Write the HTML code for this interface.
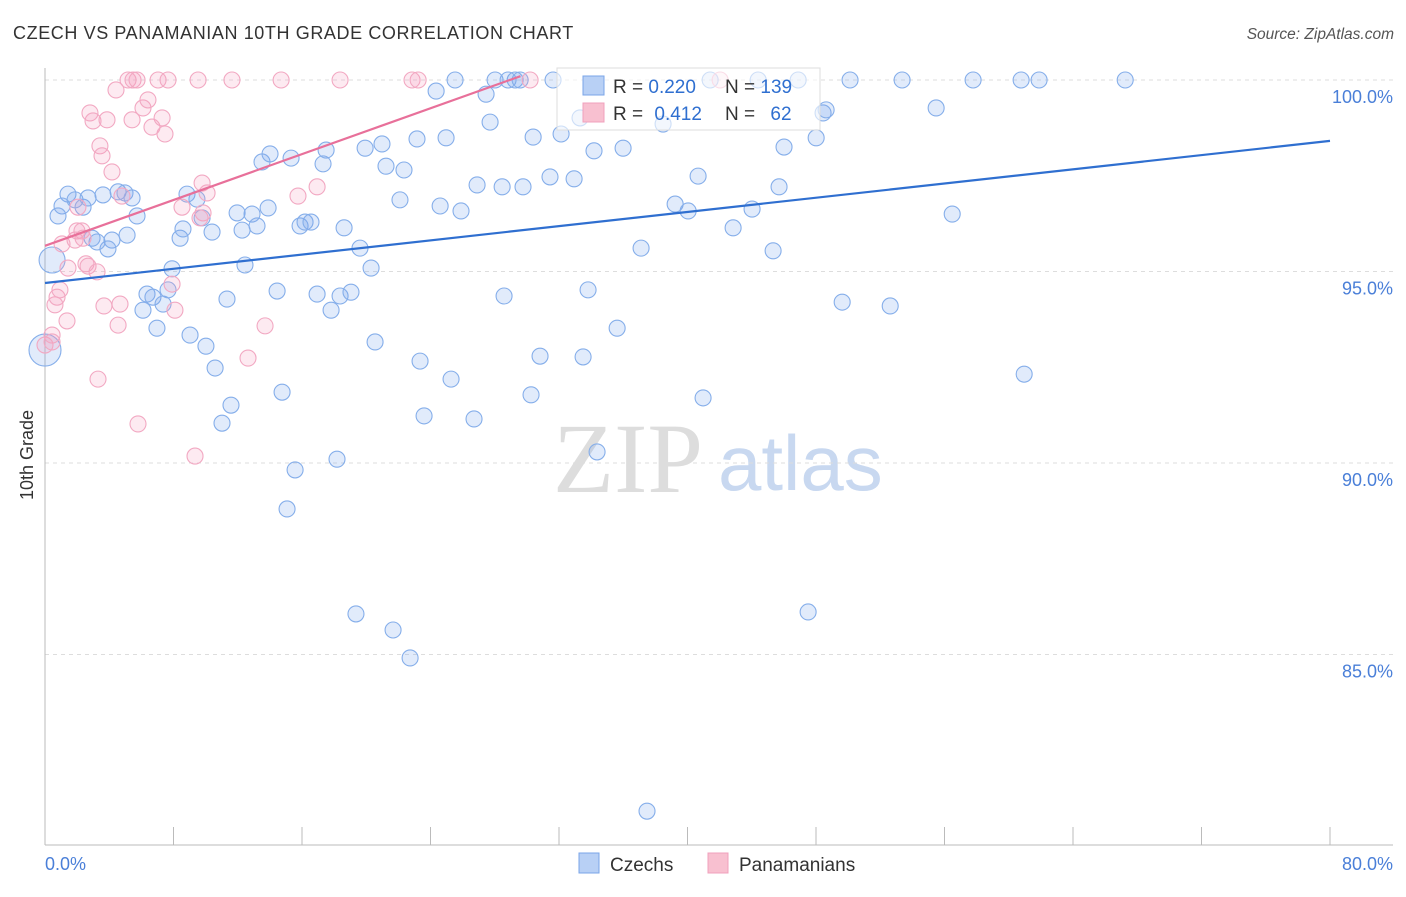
<!DOCTYPE html>
<html><head><meta charset="utf-8"><style>
body{margin:0;background:#fff;font-family:"Liberation Sans",sans-serif}
svg text{font-family:"Liberation Sans",sans-serif}
</style></head><body>
<svg id="chart" width="1406" height="892" xmlns="http://www.w3.org/2000/svg">
<text x="13" y="39" font-size="18" fill="#333" letter-spacing="0.6">CZECH VS PANAMANIAN 10TH GRADE CORRELATION CHART</text>
<text x="1394" y="39" font-size="15.5" fill="#555" text-anchor="end" font-style="italic">Source: ZipAtlas.com</text>
<g>
<text x="553" y="492" font-size="100" fill="#ddd" style="font-family:'Liberation Serif',serif">ZIP</text>
<text x="718" y="490" font-size="78" fill="#c8d8f0">atlas</text></g>
<g id="grid"></g>
<g id="axes"></g>
<g id="pts"></g>
<g id="lines"></g>
<text transform="translate(33,455) rotate(-90)" font-size="18" fill="#333" text-anchor="middle">10th Grade</text>
<g>
<rect x="557" y="68" width="263" height="62" fill="#fff" fill-opacity="0.6" stroke="#ddd"/>
<rect x="583" y="76" width="21" height="19" fill="#b8d0f5" stroke="#7aa5e8"/>
<rect x="583" y="103" width="21" height="19" fill="#f8c0d0" stroke="#f0a0bc"/>
<text x="613" y="93" font-size="19" fill="#333">R = <tspan fill="#2f6fd0">0.220</tspan></text>
<text x="725" y="93" font-size="19" fill="#333">N = <tspan fill="#2f6fd0">139</tspan></text>
<text x="613" y="120" font-size="19" fill="#333">R = <tspan fill="#2f6fd0" dx="6">0.412</tspan></text>
<text x="725" y="120" font-size="19" fill="#333">N = <tspan fill="#2f6fd0" dx="10">62</tspan></text>
</g>
<g>
<rect x="579" y="853" width="20" height="20" fill="#b8d0f5" stroke="#7aa5e8"/>
<text x="610" y="871" font-size="19" fill="#333">Czechs</text>
<rect x="708" y="853" width="20" height="20" fill="#f8c0d0" stroke="#f0a0bc"/>
<text x="739" y="871" font-size="19" fill="#333">Panamanians</text>
</g>
</svg>
<script>
const czechX=[0.44,0,1.43,1.06,0.81,1.87,2.37,2.68,3.61,4.55,4.98,5.42,5.73,5.11,4.17,3.92,3.24,2.93,7.91,6.35,6.72,6.10,7.35,6.97,7.66,8.41,8.59,8.84,9.46,9.78,10.40,9.03,10.02,10.59,11.33,11.58,11.02,12.45,11.96,12.27,12.89,13.20,13.89,13.51,14.01,15.32,14.45,14.76,15.57,15.07,15.88,16.19,16.56,16.94,17.81,18.37,19.05,18.62,19.61,20.30,20.55,18.18,19.36,21.67,22.73,17.31,17.50,19.93,20.98,21.23,22.35,22.10,23.16,24.97,23.35,23.60,24.60,25.28,25.90,26.71,26.90,28.46,29.76,28.58,30.26,30.82,31.44,32.94,33.81,33.50,35.62,34.37,37.11,39.23,40.04,40.66,40.97,42.84,44.02,45.33,45.70,46.01,47.51,48.01,48.44,48.63,49.63,52.62,55.48,56.48,60.96,30.39,32.13,34.18,35.99,27.71,27.46,24.35,25.53,28.02,29.27,31.63,41.41,44.40,46.89,50.12,53.36,57.78,60.77,61.89,67.25,37.48,38.48,33.31,28.83,29.58];
const czechY=[95.30,92.95,97.02,96.71,96.45,96.87,96.68,96.92,97.00,97.08,97.05,96.92,96.45,95.95,95.82,95.59,95.77,95.87,95.07,94.41,94.33,93.99,94.15,93.52,94.52,95.87,96.11,97.02,96.89,96.40,96.03,93.34,93.05,92.48,94.28,91.51,91.04,95.17,96.53,96.08,96.50,96.19,96.66,97.86,98.07,97.96,94.49,91.85,89.82,88.80,96.19,96.29,96.29,94.41,93.99,94.36,94.46,96.14,95.61,95.09,93.16,90.10,86.06,85.64,84.91,97.81,98.17,98.22,98.33,97.75,97.65,96.87,98.46,98.49,92.66,91.23,96.71,92.19,96.58,91.15,97.26,97.21,97.21,94.36,91.78,92.79,97.47,97.42,94.52,92.77,93.52,90.29,95.61,96.76,96.58,97.49,91.70,96.14,96.63,95.54,97.21,98.25,86.11,98.49,99.14,99.22,94.20,94.10,99.27,96.50,92.32,98.51,98.59,98.15,98.22,98.90,99.63,99.71,100,100,100,100,100,100,100,100,100,100,100,100,100,80.91,98.85,99.01,100,100];
const czechBig=[0,1];
const panX=[0,0.44,0.44,0.62,0.75,0.93,1.37,1.06,1.43,1.87,2.05,1.99,2.30,2.37,2.55,2.68,3.24,2.80,2.99,3.86,3.42,3.55,4.17,4.42,5.17,5.48,5.73,6.10,6.41,6.66,7.04,7.29,7.47,5.42,4.79,4.67,3.67,4.55,3.30,5.79,7.66,9.53,11.64,14.70,18.37,22.85,23.23,30.20,42.03,7.91,8.09,8.53,9.78,10.09,9.84,9.34,12.64,13.70,15.75,16.94,9.65];
const panY=[93.08,93.34,93.16,94.13,94.33,94.52,93.71,95.72,95.09,95.82,96.68,96.06,96.06,95.87,95.20,95.14,94.99,99.14,98.93,98.96,98.28,98.02,97.60,99.74,100,100,100,99.27,99.48,98.77,100,99.01,98.59,98.96,96.97,94.15,94.10,93.60,92.19,91.02,100,100,100,100,100,100,100,100,100,94.67,93.99,96.68,97.31,97.05,96.53,90.18,92.74,93.58,96.97,97.21,96.40];
const czechTrendX=[0,80], czechTrendY=[94.70,98.41];
const panTrendX=[0,29.6], panTrendY=[95.67,100.1];
const yTicks=[100,95,90,85];
const yTickLabels=["100.0%","95.0%","90.0%","85.0%"];
const xTicks=[0,8,16,24,32,40,48,56,64,72,80];

const X=v=>45+v*(1285/80);
const Y=v=>80+(100-v)*38.3;
const NS='http://www.w3.org/2000/svg';
function mk(p,t,a){const e=document.createElementNS(NS,t);for(const k in a)e.setAttribute(k,a[k]);p.appendChild(e);return e;}
const grid=document.getElementById('grid'),axes=document.getElementById('axes'),pts=document.getElementById('pts'),lines=document.getElementById('lines');
yTicks.forEach((t,i)=>{
 const l=mk(grid,'line',{x1:45,x2:1393,y1:Y(t),y2:Y(t),stroke:'#ddd','stroke-dasharray':'4,4'});
 
 
 const tx=mk(axes,'text',{x:1393,y:Y(t)+23,'font-size':18,fill:'#4a7fd8','text-anchor':'end'});
 tx.textContent=yTickLabels[i];
 
 
});
const ya=mk(axes,'line',{x1:45,x2:45,y1:68,y2:845,stroke:'#bbb'});


const xa=mk(axes,'line',{x1:45,x2:1393,y1:845,y2:845,stroke:'#bbb'});


xTicks.forEach(t=>{
 const l=mk(axes,'line',{x1:X(t),x2:X(t),y1:827,y2:845,stroke:'#bbb'});
 
 
});
const x0=mk(axes,'text',{x:45,y:870,'font-size':18,fill:'#4a7fd8'});x0.textContent='0.0%';


const x1=mk(axes,'text',{x:1393,y:870,'font-size':18,fill:'#4a7fd8','text-anchor':'end'});x1.textContent='80.0%';


function dots(xs,ys,fill,stroke,name,big){
 xs.forEach((x,i)=>{
  const r=(big&&big.includes(i))?(i===0?13:16):8;
  const c=mk(pts,'circle',{cx:X(x),cy:Y(ys[i]),r:r,fill:fill,stroke:stroke,'stroke-width':1.1});
  
  
 });
}
dots(czechX,czechY,'rgba(120,165,235,0.22)','#85aeea','czech-point',czechBig);
dots(panX,panY,'rgba(245,160,190,0.22)','#f2a8c2','panamanian-point',null);
const bl=mk(lines,'line',{x1:X(czechTrendX[0]),y1:Y(czechTrendY[0]),x2:X(czechTrendX[1]),y2:Y(czechTrendY[1]),stroke:'#2f6fd0','stroke-width':2.2});


const pl=mk(lines,'line',{x1:X(panTrendX[0]),y1:Y(panTrendY[0]),x2:X(panTrendX[1]),y2:Y(panTrendY[1]),stroke:'#e8709a','stroke-width':2.2});


</script>
</body></html>
